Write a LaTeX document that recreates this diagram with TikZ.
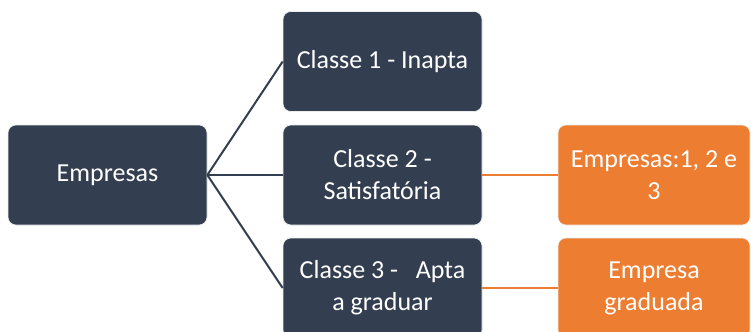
\documentclass[tikz,border=0pt]{standalone}
\usepackage{fontspec}
\setmainfont{Carlito}
\definecolor{darkbox}{HTML}{333F50}
\definecolor{orangebox}{HTML}{ED7D31}
\begin{document}
\begin{tikzpicture}[x=0.75pt,y=-0.75pt,
  base/.style={rounded corners=6pt, draw=white!85!gray, line width=0.5pt, text=white,
    font=\fontsize{19.5}{24}\selectfont, align=center, inner sep=0pt, minimum height=75pt},
  darknode/.style={base, fill=darkbox, minimum width=149.25pt},
  orangenode/.style={base, fill=orangebox, minimum width=144pt},
  darkline/.style={draw=darkbox, line width=1.5pt},
  orangeline/.style={draw=orangebox, line width=1.5pt}]
\useasboundingbox (0,0) rectangle (751,332);
\node[darknode] (emp) at (107.5,175) {Empresas};
\node[darknode] (c1) at (382.5,61.5) {Classe 1 - Inapta};
\node[darknode] (c2) at (382.5,175) {Classe 2 -\\Satisfatória};
\node[darknode] (c3) at (382.5,288) {Classe 3 -\ \ \ Apta\\a graduar};
\node[orangenode] (o2) at (654,175) {Empresas:1, 2 e\\3};
\node[orangenode] (o3) at (654,288) {Empresa\\graduada};
\draw[darkline] (emp.east) -- (c1.west);
\draw[darkline] (emp.east) -- (c2.west);
\draw[darkline] (emp.east) -- (c3.west);
\draw[orangeline] (c2.east) -- (o2.west);
\draw[orangeline] (c3.east) -- (o3.west);
\end{tikzpicture}
\end{document}
